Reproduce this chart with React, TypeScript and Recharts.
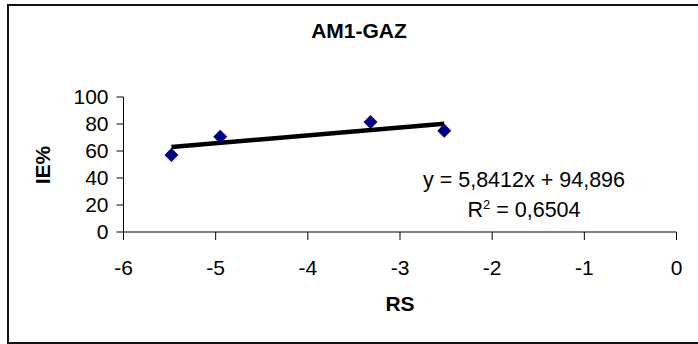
import { ScatterChart, Scatter, XAxis, YAxis, ReferenceLine } from 'recharts'

// measured points (RS, IE%)
const rsValues = [-5.48, -4.95, -3.32, -2.52]
const ieValues = [57, 70.5, 81.5, 75]

// trendline end points (y = 5,8412x + 94,896)
const trendX = [-5.48, -2.52]
const trendY = [62.9, 80.2]

const xTicks = [-6, -5, -4, -3, -2, -1, 0]
const yTicks = [0, 20, 40, 60, 80, 100]

const points = rsValues.map((x, i) => ({ x, y: ieValues[i] }))

const font = '"Liberation Sans", Arial, sans-serif'

function Diamond(props: any) {
  const { cx, cy } = props
  const r = 7
  return (
    <polygon
      points={`${cx},${cy - r} ${cx + r},${cy} ${cx},${cy + r} ${cx - r},${cy}`}
      fill="#000080"
    />
  )
}

export default function App() {
  return (
    <div
      style={{
        position: 'absolute',
        left: 0,
        top: 0,
        width: 698,
        height: 344,
        overflow: 'hidden',
        background: '#fff',
        fontFamily: font,
      }}
    >
      <div
        style={{
          position: 'absolute',
          left: 7,
          top: 4,
          width: 720,
          height: 336,
          border: '2px solid #111',
        }}
      />
      <ScatterChart
        width={698}
        height={344}
        margin={{ top: 97, right: 21.5, bottom: 72, left: 63.5 }}
        style={{ position: 'absolute', left: 0, top: 0 }}
      >
        <XAxis
          type="number"
          dataKey="x"
          domain={[-6, 0]}
          ticks={xTicks}
          interval={0}
          height={40}
          tickSize={8}
          tickMargin={20}
          stroke="#000"
          tick={{ fill: '#000', fontSize: 21, fontFamily: font }}
          allowDataOverflow
        />
        <YAxis
          type="number"
          dataKey="y"
          domain={[0, 100]}
          ticks={yTicks}
          interval={0}
          width={60}
          tickSize={7}
          tickMargin={8}
          stroke="#000"
          tick={{ fill: '#000', fontSize: 21, fontFamily: font }}
          allowDataOverflow
        />
        <ReferenceLine
          segment={[
            { x: trendX[0], y: trendY[0] },
            { x: trendX[1], y: trendY[1] },
          ]}
          stroke="#000"
          strokeWidth={4.5}
          ifOverflow="visible"
        />
        <Scatter data={points} shape={Diamond} isAnimationActive={false} />
      </ScatterChart>
      <svg
        width={698}
        height={344}
        style={{ position: 'absolute', left: 0, top: 0, pointerEvents: 'none' }}
        fontFamily={font}
      >
        <text x={359} y={38} textAnchor="middle" fontSize={21} fontWeight="bold" fill="#000">
          AM1-GAZ
        </text>
        <text
          x={42.5}
          y={165}
          textAnchor="middle"
          dominantBaseline="central"
          fontSize={21}
          fontWeight="bold"
          fill="#000"
          transform="rotate(-90 42.5 165)"
        >
          IE%
        </text>
        <text x={400} y={311} textAnchor="middle" fontSize={21} fontWeight="bold" fill="#000">
          RS
        </text>
        <text x={524} y={187} textAnchor="middle" fontSize={21.5} fill="#000">
          y = 5,8412x + 94,896
        </text>
        <text x={524} y={217} textAnchor="middle" fontSize={21.5} fill="#000">
          R
          <tspan dy={-8} fontSize={13}>
            2
          </tspan>
          <tspan dy={8}> = 0,6504</tspan>
        </text>
      </svg>
    </div>
  )
}
